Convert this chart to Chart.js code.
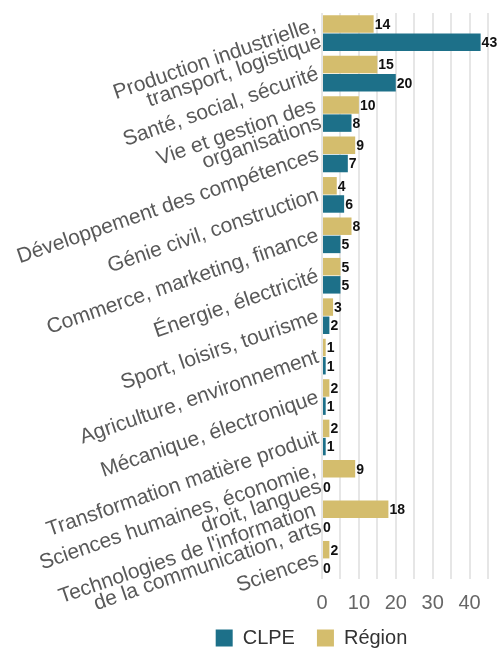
<!DOCTYPE html>
<html>
<head>
<meta charset="utf-8">
<script src="https://cdn.jsdelivr.net/npm/chart.js@4/dist/chart.umd.min.js"></script>
<style>
  html, body { margin: 0; padding: 0; background: #fff; }
  #wrap { width: 500px; height: 649px; }
</style>
</head>
<body>
<div id="wrap"><canvas id="chart"></canvas></div>
<script>
const categories = [
    ["Production industrielle,", "transport, logistique"],
    "Santé, social, sécurité",
    ["Vie et gestion des", "organisations"],
    "Développement des compétences",
    "Génie civil, construction",
    "Commerce, marketing, finance",
    "Énergie, électricité",
    "Sport, loisirs, tourisme",
    "Agriculture, environnement",
    "Mécanique, électronique",
    "Transformation matière produit",
    ["Sciences humaines, économie,", "droit, langues"],
    ["Technologies de l'information", "de la communication, arts"],
    "Sciences"
];
const clpe = [43, 20, 8, 7, 6, 5, 5, 2, 1, 1, 1, 0, 0, 0];
const region = [14, 15, 10, 9, 4, 8, 5, 3, 1, 2, 2, 9, 18, 2];
const xTicks = [0, 10, 20, 30, 40];

const ctx = document.getElementById("chart").getContext("2d");

// nombres au bout des barres
const valeurs = {
    id: 'valeurs',
    afterDatasetsDraw(chart) {
        const c = chart.ctx;
        c.save();
        c.font = "bold 14px 'Liberation Sans', Arial, sans-serif";
        c.fillStyle = "#111";
        c.textBaseline = "middle";
        c.textAlign = "left";
        chart.data.datasets.forEach((ds, i) => {
            chart.getDatasetMeta(i).data.forEach((bar, j) => {
                c.fillText(ds.data[j], bar.x + 1, bar.y + 1);
            });
        });
        c.restore();
    }
};

// place la légende comme sur l'original
const legendeDecalee = {
    id: 'legendeDecalee',
    afterLayout(chart) {
        const l = chart.legend;
        l.left += 64;
        l.right += 64;
        l.top -= 9;
        l.bottom -= 9;
    }
};

new Chart(ctx, {
    type: 'bar',
    data: {
        labels: categories,
        datasets: [
            {
                label: "Région",
                data: region,
                backgroundColor: "#d4bd6d",
                barPercentage: 0.96,
                categoryPercentage: 0.9
            },
            {
                label: "CLPE",
                data: clpe,
                backgroundColor: "#1d7089",
                barPercentage: 0.96,
                categoryPercentage: 0.9
            }
        ]
    },
    options: {
        indexAxis: 'y',
        responsive: true,
        maintainAspectRatio: false,
        animation: false,
        layout: {
            padding: { top: 10, right: 5, bottom: -18, left: 0 }
        },
        scales: {
            x: {
                min: 0,
                max: 45,
                border: { display: false },
                grid: { color: "#e6e6e6", lineWidth: 2, drawTicks: false },
                afterFit: (scale) => { scale.height = 36; },
                ticks: {
                    stepSize: 5,
                    padding: 12,
                    autoSkip: false,
                    maxRotation: 0,
                    color: "#666",
                    font: { family: "'Liberation Sans', Arial, sans-serif", size: 20 },
                    callback: (v) => xTicks.includes(v) ? v : ''
                }
            },
            y: {
                border: { display: false },
                grid: { display: false, drawTicks: false },
                afterFit: (scale) => { scale.width = 322; },
                ticks: {
                    autoSkip: false,
                    minRotation: 19,
                    maxRotation: 19,
                    padding: 4,
                    color: "#595959",
                    font: { family: "'Liberation Sans', Arial, sans-serif", size: 21, lineHeight: 0.85 }
                }
            }
        },
        plugins: {
            legend: {
                position: 'bottom',
                reverse: true,
                labels: {
                    boxWidth: 17,
                    boxHeight: 17,
                    padding: 22,
                    color: "#333",
                    font: { family: "'Liberation Sans', Arial, sans-serif", size: 20 }
                }
            },
            tooltip: { enabled: false }
        }
    },
    plugins: [valeurs, legendeDecalee]
});
</script>
</body>
</html>
